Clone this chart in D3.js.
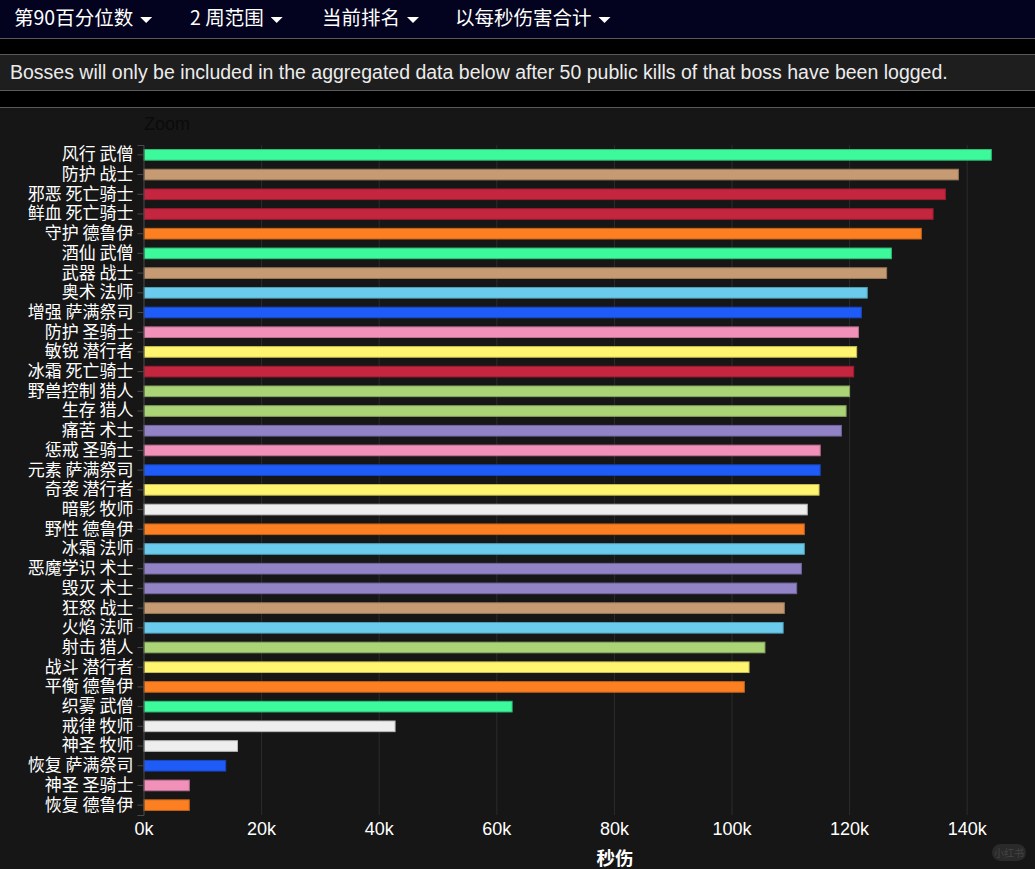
<!DOCTYPE html>
<html><head><meta charset="utf-8">
<script src="https://cdn.jsdelivr.net/npm/d3@7"></script>
<style>
html,body{margin:0;padding:0;background:#161616;overflow:hidden;}
svg{display:block;}
</style></head>
<body>
<svg id="c" width="1035" height="869"></svg>
<script>
const specs = ["风行 武僧","防护 战士","邪恶 死亡骑士","鲜血 死亡骑士","守护 德鲁伊","酒仙 武僧","武器 战士","奥术 法师","增强 萨满祭司","防护 圣骑士","敏锐 潜行者","冰霜 死亡骑士","野兽控制 猎人","生存 猎人","痛苦 术士","惩戒 圣骑士","元素 萨满祭司","奇袭 潜行者","暗影 牧师","野性 德鲁伊","冰霜 法师","恶魔学识 术士","毁灭 术士","狂怒 战士","火焰 法师","射击 猎人","战斗 潜行者","平衡 德鲁伊","织雾 武僧","戒律 牧师","神圣 牧师","恢复 萨满祭司","神圣 圣骑士","恢复 德鲁伊"];
const dps = [144100,138500,136300,134200,132200,127100,126300,123000,122000,121500,121200,120700,120000,119400,118600,115000,115000,114800,112800,112300,112300,111800,111000,108900,108700,105600,102900,102100,62600,42700,15900,13900,7700,7700];
const classes = ["武僧","战士","死亡骑士","死亡骑士","德鲁伊","武僧","战士","法师","萨满祭司","圣骑士","潜行者","死亡骑士","猎人","猎人","术士","圣骑士","萨满祭司","潜行者","牧师","德鲁伊","法师","术士","术士","战士","法师","猎人","潜行者","德鲁伊","武僧","牧师","牧师","萨满祭司","圣骑士","德鲁伊"];
const classNames = ["武僧","战士","死亡骑士","德鲁伊","法师","萨满祭司","圣骑士","潜行者","猎人","术士","牧师"];
const classColors = ["#3cf99b","#c69b74","#c4253f","#fc7f22","#6bcbec","#1f5bf7","#f190b8","#fff56e","#abd477","#9283c7","#eeeeee"];
const xTicks = [0,20000,40000,60000,80000,100000,120000,140000];
const navItems = ["第90百分位数","2 周范围","当前排名","以每秒伤害合计"];
const notice = "Bosses will only be included in the aggregated data below after 50 public kills of that boss have been logged.";

const svg = d3.select("#c");
const W = 1035, H = 869;

// header nav
svg.append("rect").attr("x",0).attr("y",0).attr("width",W).attr("height",38).attr("fill","#03031f");
svg.append("rect").attr("x",0).attr("y",38).attr("width",W).attr("height",69).attr("fill","#000");
svg.append("line").attr("x1",0).attr("x2",W).attr("y1",38.5).attr("y2",38.5).attr("stroke","#5a5a5a");
svg.append("rect").attr("x",-1).attr("y",54.5).attr("width",W+2).attr("height",36).attr("fill","#1e1e1e").attr("stroke","#5a5a5a");
svg.append("line").attr("x1",0).attr("x2",W).attr("y1",107.5).attr("y2",107.5).attr("stroke","#5a5a5a");

const navX = [14,190,322,455];
navItems.forEach((t,i)=>{
  const g = svg.append("g").attr("transform",`translate(${navX[i]},25)`);
  const tx = g.append("text").text(t).attr("fill","#fff")
    .style("font-family","'Noto Sans CJK SC', sans-serif").style("font-size","19.5px");
  const w = tx.node().getComputedTextLength();
  g.append("path").attr("d",`M${w+7},-8 L${w+19},-8 L${w+13},-2 Z`).attr("fill","#fff");
});
svg.append("text").attr("x",10).attr("y",79).text(notice).attr("fill","#ececec")
  .style("font-family","'Liberation Sans', Arial, sans-serif").style("font-size","19.5px");

svg.append("text").attr("x",144).attr("y",130).text("Zoom").attr("fill","#0b0b0b")
  .style("font-family","'Liberation Sans', Arial, sans-serif").style("font-size","18px");

// chart
const x0 = 143.5, plotTop = 145, plotBottom = 815;
const x = d3.scaleLinear().domain([0,160000]).range([x0, x0 + 5.88*160]);
const y = d3.scaleBand().domain(specs).range([plotTop,plotBottom]).paddingInner(0.46).paddingOuter(0.23);
const color = d3.scaleOrdinal().domain(classNames).range(classColors);

// grid
svg.append("g").selectAll("line").data(xTicks.slice(1)).join("line")
  .attr("x1",d=>x(d)+0.5).attr("x2",d=>x(d)+0.5).attr("y1",plotTop).attr("y2",plotBottom)
  .attr("stroke","#2c2c2c").attr("stroke-width",1);

// bars
svg.append("g").selectAll("rect").data(specs).join("rect")
  .attr("x",x(0)+0.5).attr("y",d=>y(d))
  .attr("width",(d,i)=>x(dps[i])-x(0)).attr("height",y.bandwidth())
  .attr("fill",(d,i)=>color(classes[i]))
  .attr("stroke",(d,i)=>d3.color(color(classes[i])).darker(0.7))
  .attr("stroke-width",1);

// y axis
const yAxis = svg.append("g").attr("transform",`translate(${x0},0)`)
  .call(d3.axisLeft(y).tickSizeInner(6).tickSizeOuter(6).tickPadding(4));
yAxis.select(".domain").attr("stroke","#4a4a4a");
yAxis.selectAll(".tick line").attr("stroke","#4a4a4a");
yAxis.selectAll(".tick text").attr("fill","#fff")
  .style("font-family","'Noto Sans CJK SC', sans-serif").style("font-size","17px");

// x axis labels
const xAxis = svg.append("g").attr("transform",`translate(0,${plotBottom})`)
  .call(d3.axisBottom(x).tickValues(xTicks).tickFormat(d=>d/1000+"k").tickSize(0).tickPadding(7));
xAxis.select(".domain").remove();
xAxis.selectAll(".tick text").attr("fill","#fff")
  .style("font-family","'Liberation Sans Narrow','Liberation Sans',sans-serif").style("font-size","18px");

svg.append("text").attr("x",615).attr("y",865).attr("text-anchor","middle").text("秒伤")
  .attr("fill","#fff").style("font-family","'Noto Sans CJK SC', sans-serif")
  .style("font-size","18.5px").style("font-weight","bold");

// watermark
svg.append("rect").attr("x",992).attr("y",844).attr("width",34).attr("height",17).attr("rx",8.5).attr("fill","#2a2a2a");
svg.append("text").attr("x",1009).attr("y",857).attr("text-anchor","middle").text("小红书")
  .attr("fill","#444").style("font-family","'Noto Sans CJK SC', sans-serif").style("font-size","10px");
</script>
</body></html>
